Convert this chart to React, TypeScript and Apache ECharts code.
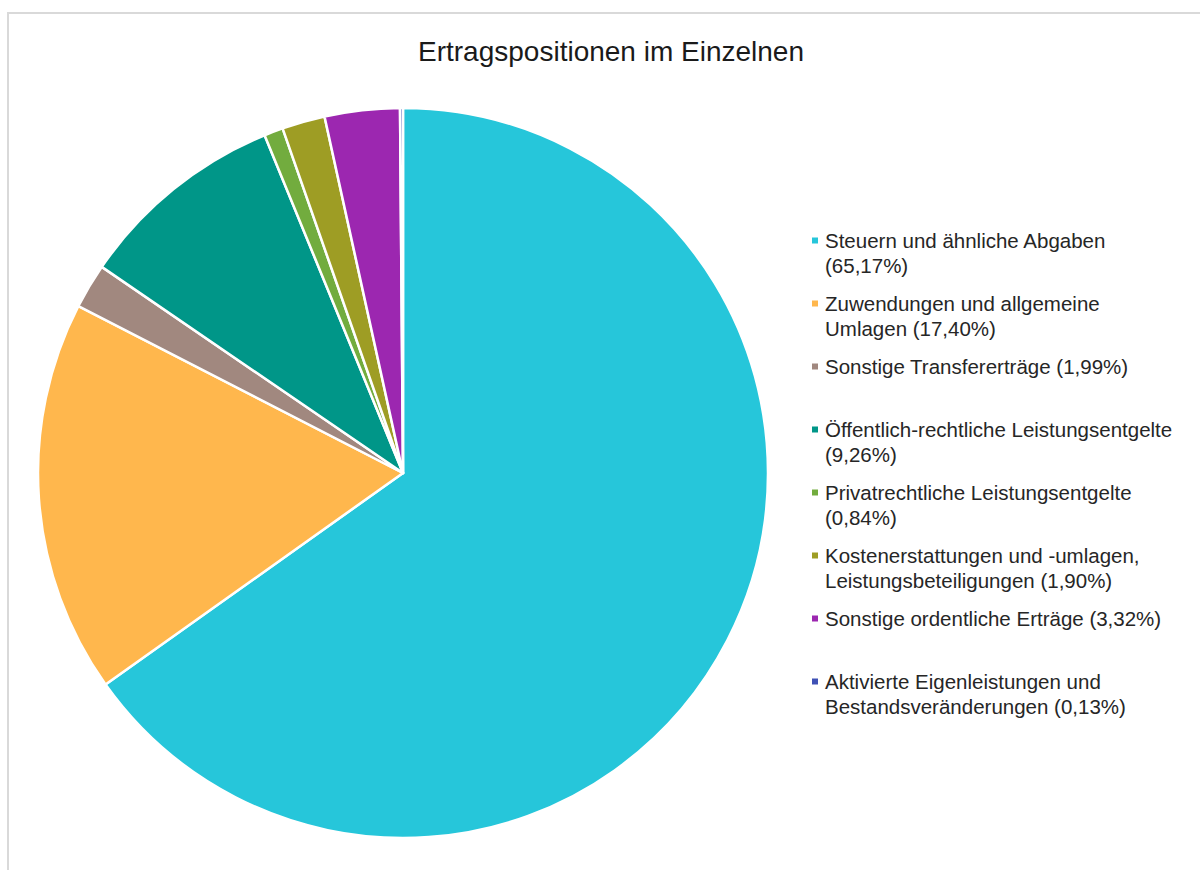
import React, { useEffect, useRef } from "react";
import * as echarts from "echarts";

const titleText = "Ertragspositionen im Einzelnen";

const categories = [
  "Steuern und ähnliche Abgaben",
  "Zuwendungen und allgemeine Umlagen",
  "Sonstige Transfererträge",
  "Öffentlich-rechtliche Leistungsentgelte",
  "Privatrechtliche Leistungsentgelte",
  "Kostenerstattungen und -umlagen, Leistungsbeteiligungen",
  "Sonstige ordentliche Erträge",
  "Aktivierte Eigenleistungen und Bestandsveränderungen",
];

const shares = [65.17, 17.4, 1.99, 9.26, 0.84, 1.9, 3.32, 0.13];

const colors = [
  "#26C6DA",
  "#FFB74D",
  "#A1887F",
  "#009688",
  "#72AC3E",
  "#9E9D24",
  "#9C27B0",
  "#3F51B5",
];

// number of words on the first legend line (0 = single line)
const wrapAfterWords = [4, 3, 0, 2, 2, 3, 0, 3];

const FONT = "'Liberation Sans', Arial, Helvetica, sans-serif";
const TEXT_COLOR = "#262626";

export default function App() {
  const ref = useRef<HTMLDivElement>(null);

  useEffect(() => {
    if (!ref.current) return;
    const chart = echarts.init(ref.current, null, { renderer: "svg" });

    const rich: Record<string, any> = {
      gap: { width: 7, lineHeight: 25 },
      ind: { width: 13, lineHeight: 25 },
      t: { fontSize: 20.5, fontFamily: FONT, color: TEXT_COLOR, lineHeight: 25 },
    };
    colors.forEach((c, i) => {
      rich["m" + i] = { width: 6, height: 6, backgroundColor: c, lineHeight: 25 };
    });

    const option: any = {
      animation: false,
      backgroundColor: "#ffffff",
      color: colors,
      title: {
        text: titleText,
        left: 611,
        top: 37,
        padding: 0,
        textAlign: "center",
        textStyle: {
          fontSize: 28,
          fontWeight: "normal",
          fontFamily: FONT,
          color: "#1a1a1a",
        },
      },
      graphic: [
        {
          type: "rect",
          shape: { x: 8, y: 13, width: 1300, height: 1000 },
          style: { fill: "none", stroke: "#d9d9d9", lineWidth: 2 },
          silent: true,
          z: -10,
        },
      ],
      legend: {
        orient: "vertical",
        left: 807,
        top: 228,
        padding: 0,
        itemGap: 13,
        icon: "none",
        itemWidth: 0,
        itemHeight: 0,
        selectedMode: false,
        data: categories,
        formatter: (name: string) => {
          const i = categories.indexOf(name);
          const full = `${name} (${shares[i].toFixed(2).replace(".", ",")}%)`;
          const words = full.split(" ");
          const n = wrapAfterWords[i];
          const l1 = n ? words.slice(0, n).join(" ") : full;
          const l2 = n ? words.slice(n).join(" ") : "";
          return `{m${i}|}{gap|}{t|${l1}}\n{ind|}{t|${l2}}`;
        },
        textStyle: {
          fontSize: 20.5,
          fontFamily: FONT,
          color: TEXT_COLOR,
          lineHeight: 25,
          rich,
        },
      },
      series: [
        {
          type: "pie",
          center: [403, 473],
          radius: 365,
          startAngle: 90,
          clockwise: true,
          avoidLabelOverlap: false,
          label: { show: false },
          labelLine: { show: false },
          emphasis: { disabled: true },
          itemStyle: { borderColor: "#ffffff", borderWidth: 2.5 },
          data: categories.map((name, i) => ({ name, value: shares[i] })),
        },
      ],
    };

    chart.setOption(option);
    return () => chart.dispose();
  }, []);

  return (
    <div
      ref={ref}
      style={{ position: "absolute", left: 0, top: 0, width: 1200, height: 870 }}
    />
  );
}
